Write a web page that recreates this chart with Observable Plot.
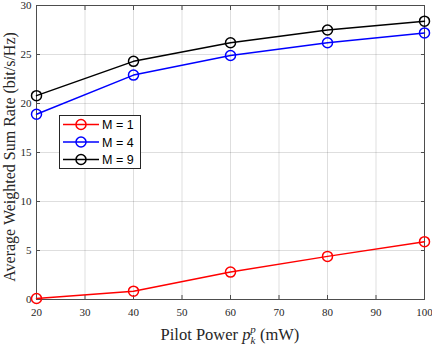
<!DOCTYPE html>
<html><head><meta charset="utf-8">
<script src="https://cdn.jsdelivr.net/npm/d3@7"></script>
<script src="https://cdn.jsdelivr.net/npm/@observablehq/plot@0.6"></script>
<style>body{margin:0;background:#fff}</style>
</head><body><div id="chart"></div>
<script>
const power = [20, 40, 60, 80, 100];
const rateM1 = [0.1, 0.85, 2.8, 4.4, 5.9];
const rateM4 = [18.9, 22.9, 24.9, 26.2, 27.2];
const rateM9 = [20.8, 24.3, 26.2, 27.5, 28.4];
const seriesNames = ["M = 1", "M = 4", "M = 9"];
const seriesColors = ["#ff0000", "#0000ff", "#000000"];
const xTicks = [20, 30, 40, 50, 60, 70, 80, 90, 100];
const yTicks = [0, 5, 10, 15, 20, 25, 30];

const rows = [];
[rateM1, rateM4, rateM9].forEach((vals, i) => vals.forEach((v, j) => rows.push({x: power[j], y: v, s: seriesNames[i]})));

const axisColor = "#4d4d4d";
const plot = Plot.plot({
  width: 432, height: 348,
  marginLeft: 36, marginRight: 8, marginTop: 5, marginBottom: 49,
  x: {domain: [20, 100]},
  y: {domain: [0, 30]},
  color: {domain: seriesNames, range: seriesColors},
  style: {fontFamily: "Liberation Serif", fontSize: "11px", background: "white", color: "#262626"},
  marks: [
    Plot.gridX(xTicks, {stroke: "#000", strokeOpacity: 0.13}),
    Plot.gridY(yTicks, {stroke: "#000", strokeOpacity: 0.13}),
    Plot.frame({stroke: axisColor}),
    Plot.axisX(xTicks, {anchor: "bottom", tickSize: -4, tickPadding: 13, label: null, stroke: axisColor}),
    Plot.axisX(xTicks, {anchor: "top", tickSize: -4, tickFormat: () => "", label: null, stroke: axisColor}),
    Plot.axisY(yTicks, {anchor: "left", tickSize: -4, tickPadding: 9, label: null, stroke: axisColor}),
    Plot.axisY(yTicks, {anchor: "right", tickSize: -4, tickFormat: () => "", label: null, stroke: axisColor}),
    Plot.line(rows, {x: "x", y: "y", z: "s", stroke: "s", strokeWidth: 1.5}),
    Plot.dot(rows, {x: "x", y: "y", stroke: "s", r: 5, strokeWidth: 1.5, fill: "none"})
  ]
});
document.getElementById("chart").append(plot);

const svg = d3.select(plot);
// x label
const xl = svg.append("text").attr("x", 230).attr("y", 340).attr("text-anchor", "middle")
  .attr("font-family", "Liberation Serif").attr("font-size", 16.5).attr("fill", "#262626");
xl.append("tspan").text("Pilot Power ");
xl.append("tspan").attr("font-style", "italic").text("p");
xl.append("tspan").attr("font-style", "italic").attr("font-size", 11).attr("dy", 4).text("k");
xl.append("tspan").attr("font-style", "italic").attr("font-size", 11).attr("dx", -5).attr("dy", -11).text("p");
xl.append("tspan").attr("dy", 7).text(" (mW)");
// y label
svg.append("text").attr("transform", "translate(15,157) rotate(-90)").attr("text-anchor", "middle")
  .attr("font-family", "Liberation Serif").attr("font-size", 16).attr("fill", "#262626")
  .text("Average Weighted Sum Rate (bit/s/Hz)");
// legend
const lg = svg.append("g");
lg.append("rect").attr("x", 59.5).attr("y", 115.5).attr("width", 81).attr("height", 53)
  .attr("fill", "white").attr("stroke", "#262626").attr("stroke-width", 1);
seriesNames.forEach((name, i) => {
  const yy = 124.5 + i * 17.5;
  lg.append("line").attr("x1", 63).attr("x2", 99).attr("y1", yy).attr("y2", yy)
    .attr("stroke", seriesColors[i]).attr("stroke-width", 1.5);
  lg.append("circle").attr("cx", 81).attr("cy", yy).attr("r", 5).attr("fill", "none")
    .attr("stroke", seriesColors[i]).attr("stroke-width", 1.5);
  lg.append("text").attr("x", 102).attr("y", yy + 4.5).attr("text-anchor", "start")
    .attr("font-family", "Liberation Sans").attr("font-size", 12.5).attr("fill", "#000").text(name);
});
</script></body></html>
